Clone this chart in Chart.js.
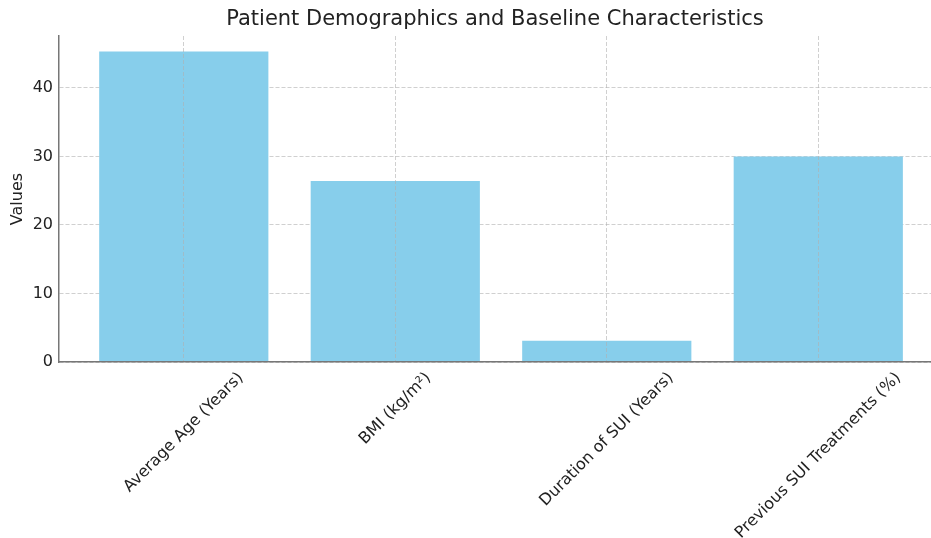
<!DOCTYPE html>
<html>
<head>
<meta charset="utf-8">
<title>Patient Demographics and Baseline Characteristics</title>
<script src="https://cdn.jsdelivr.net/npm/chart.js@4.4.1/dist/chart.umd.min.js"></script>
<style>
  html, body { margin: 0; padding: 0; background: #fff; overflow: hidden; }
  #wrap { width: 931px; height: 538px; position: relative; }
</style>
</head>
<body>
<div id="wrap"><canvas id="chart"></canvas></div>
<script>
// data
const categories = [
  'Average Age (Years)',
  'BMI (kg/m²)',
  'Duration of SUI (Years)',
  'Previous SUI Treatments (%)'
];
const values = [45.3, 26.4, 3.1, 30];
const yTicks = [0, 10, 20, 30, 40];

const textColor = '#222';
const fontFamily = '"DejaVu Sans", sans-serif';
const gridColor = 'rgba(176,176,176,0.75)';
const spineColor = '#777';

// matplotlib-style rotated labels, centred under each bar
const xLabels = {
  id: 'xLabels',
  afterDraw(chart) {
    const { ctx } = chart;
    const x = chart.scales.x;
    ctx.save();
    ctx.font = '16px ' + fontFamily;
    ctx.fillStyle = textColor;
    ctx.textAlign = 'center';
    ctx.textBaseline = 'middle';
    categories.forEach((label, i) => {
      const w = ctx.measureText(label).width;
      const ext = (w + 18) * Math.SQRT1_2;
      const px = x.getPixelForValue(i);
      ctx.save();
      ctx.translate(px, x.top + 7 + ext / 2);
      ctx.rotate(-Math.PI / 4);
      ctx.fillText(label, 0, 0);
      ctx.restore();
    });
    ctx.restore();
  }
};

new Chart(document.getElementById('chart'), {
  type: 'bar',
  data: {
    datasets: [{
      label: 'Values',
      data: values.map((v, i) => ({ x: i, y: v })),
      backgroundColor: '#87CEEB',
      borderWidth: 0,
      categoryPercentage: 1,
      barPercentage: 0.8
    }]
  },
  options: {
    responsive: true,
    maintainAspectRatio: false,
    animation: false,
    layout: { padding: 0 },
    plugins: {
      legend: { display: false },
      tooltip: { enabled: false },
      title: {
        display: true,
        text: 'Patient Demographics and Baseline Characteristics',
        fullSize: false,
        color: textColor,
        font: { family: fontFamily, size: 21, weight: 'normal' },
        padding: { top: 7, bottom: 3.8 }
      }
    },
    scales: {
      x: {
        type: 'linear',
        min: -0.59,
        max: 3.533,
        offset: false,
        z: 1,
        afterBuildTicks: (scale) => { scale.ticks = categories.map((c, i) => ({ value: i })); },
        afterFit: (scale) => { scale.height = 176; },
        ticks: { display: false },
        // vertical grid lines sit on top of the bars, as in the reference
        grid: { color: gridColor, lineWidth: 0.8, drawTicks: false, offset: false, z: 1 },
        border: { display: true, color: spineColor, width: 1.5, dash: [4, 2], z: 1 }
      },
      y: {
        min: 0,
        max: 47.565,
        afterBuildTicks: (scale) => { scale.ticks = yTicks.map(v => ({ value: v })); },
        afterFit: (scale) => { scale.width = 59; },
        ticks: {
          color: textColor,
          font: { family: fontFamily, size: 16 },
          padding: 6
        },
        grid: { color: gridColor, lineWidth: 0.8, drawTicks: false },
        border: { display: true, color: spineColor, width: 1.5, dash: [4, 2] },
        title: {
          display: true,
          text: 'Values',
          color: textColor,
          font: { family: fontFamily, size: 16 },
          padding: { top: 8, bottom: 0 }
        }
      }
    }
  },
  plugins: [xLabels]
});
</script>
</body>
</html>
